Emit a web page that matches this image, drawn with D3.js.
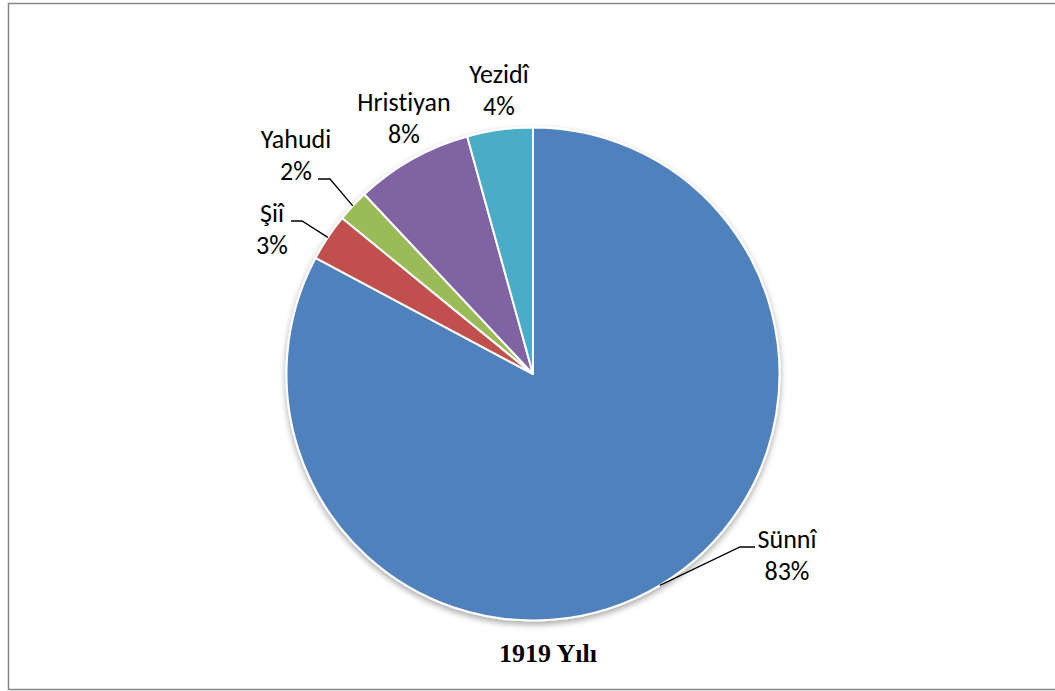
<!DOCTYPE html>
<html>
<head>
<meta charset="utf-8">
<script src="https://cdn.jsdelivr.net/npm/d3@7"></script>
<style>
  body { margin: 0; background: #fff; }
  svg { display: block; }
  text { font-variant-ligatures: none; }
</style>
</head>
<body>
<div id="chart"></div>
<script>
const categories = ["Sünnî", "Şiî", "Yahudi", "Hristiyan", "Yezidî"];
const shares = [82.8, 3.1, 2.1, 7.7, 4.3];
const colors = ["#4F81BD", "#C0504D", "#9BBB59", "#8064A2", "#4BACC6"];
const title = "1919 Yılı";

// label placement (first-line baseline, centre x) and leader line ends
const labelPos = {
  "Sünnî": { x: 787, y: 548 },
  "Şiî": { x: 272, y: 222 },
  "Yahudi": { x: 296, y: 148 },
  "Hristiyan": { x: 404, y: 111 },
  "Yezidî": { x: 499, y: 83 }
};
const leaders = [
  { name: "Sünnî", x: 755, y: 547, dx: -15 },
  { name: "Şiî", x: 291, y: 221, dx: 11 },
  { name: "Yahudi", x: 318, y: 179, dx: 12 }
];

const width = 1055, height = 691;
const cx = 533, cy = 374, radius = 246.5;
const lineGap = 32;

const data = categories.map((c, i) => ({ name: c, value: shares[i], color: colors[i] }));

const svg = d3.select("#chart")
  .append("svg")
  .attr("width", width)
  .attr("height", height);

const defs = svg.append("defs");
const shadow = defs.append("filter")
  .attr("id", "shadow")
  .attr("x", "-20%").attr("y", "-20%")
  .attr("width", "140%").attr("height", "140%");
shadow.append("feDropShadow")
  .attr("dx", 0).attr("dy", 3)
  .attr("stdDeviation", 3)
  .attr("flood-color", "#000")
  .attr("flood-opacity", 0.35);

// chart border
svg.append("rect")
  .attr("x", 8.5).attr("y", 3.5)
  .attr("width", 1060).attr("height", 686)
  .attr("fill", "#fff")
  .attr("stroke", "#868686")
  .attr("stroke-width", 1.5);

const pie = d3.pie()
  .sort(null)
  .value(d => d.value);

const arc = d3.arc()
  .innerRadius(0)
  .outerRadius(radius);

const arcs = pie(data);

const g = svg.append("g")
  .attr("transform", `translate(${cx},${cy})`);

g.append("g")
  .attr("filter", "url(#shadow)")
  .selectAll("path")
  .data(arcs)
  .join("path")
  .attr("d", arc)
  .attr("fill", d => d.data.color)
  .attr("stroke", "#fff")
  .attr("stroke-width", 2)
  .attr("stroke-linejoin", "round");

// leader lines
const byName = new Map(arcs.map(a => [a.data.name, a]));
leaders.forEach(l => {
  const a = byName.get(l.name);
  const mid = (a.startAngle + a.endAngle) / 2;
  const p0 = [cx + radius * Math.sin(mid), cy - radius * Math.cos(mid)];
  svg.append("path")
    .attr("d", d3.line()([p0, [l.x + l.dx, l.y], [l.x, l.y]]))
    .attr("fill", "none")
    .attr("stroke", "#000")
    .attr("stroke-width", 1.3);
});

// labels
const labels = svg.append("g")
  .attr("font-family", "Carlito, Calibri, Lato, sans-serif")
  .attr("font-size", 26)
  .attr("fill", "#000")
  .attr("text-anchor", "middle");

arcs.forEach(a => {
  const p = labelPos[a.data.name];
  const t = labels.append("text").attr("x", p.x).attr("y", p.y);
  t.append("tspan").attr("x", p.x).text(a.data.name);
  t.append("tspan").attr("x", p.x).attr("dy", lineGap)
    .text(Math.round(a.data.value) + "%");
});

svg.append("text")
  .attr("x", 548)
  .attr("y", 662)
  .attr("text-anchor", "middle")
  .attr("font-family", "'Liberation Serif', 'Times New Roman', serif")
  .attr("font-weight", "bold")
  .attr("font-size", 26)
  .text(title);
</script>
</body>
</html>
